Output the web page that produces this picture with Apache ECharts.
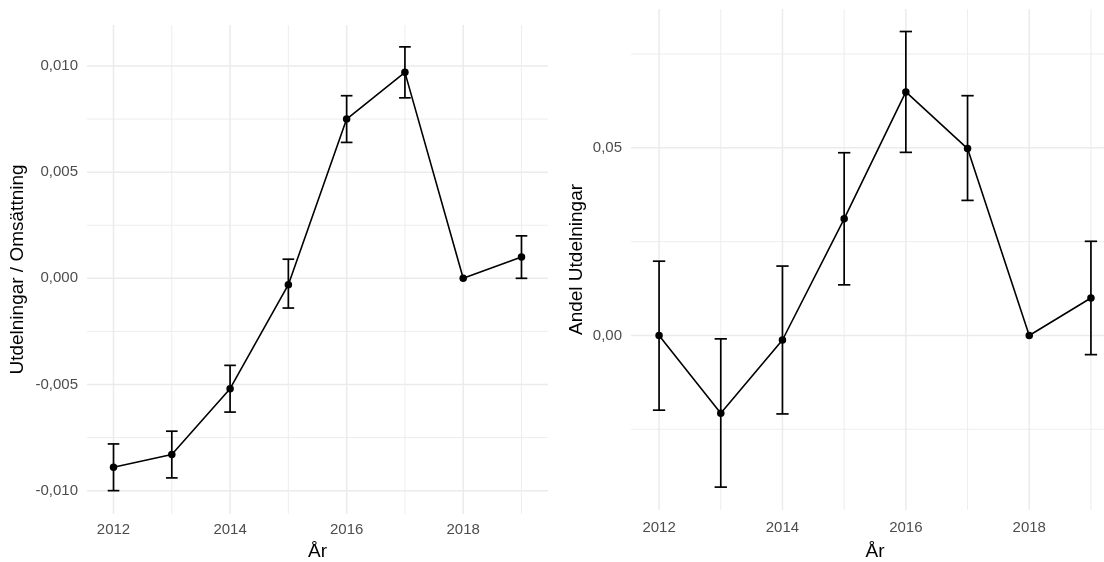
<!DOCTYPE html>
<html>
<head>
<meta charset="utf-8">
<title>Utdelningar</title>
<script src="https://cdn.jsdelivr.net/npm/echarts@6/dist/echarts.min.js"></script>
<style>
  html, body { margin: 0; padding: 0; background: #ffffff; }
  #chart { width: 1104px; height: 562px; }
</style>
</head>
<body>
<div id="chart"></div>
<script>
// Years on the x axis of both panels
const years = [2012, 2013, 2014, 2015, 2016, 2017, 2018, 2019];

// Left panel: distributions relative to turnover (estimate with interval)
const ratioMean = [-0.0089, -0.0083, -0.0052, -0.0003, 0.0075, 0.0097, 0.0000, 0.0010];
const ratioLow  = [-0.0100, -0.0094, -0.0063, -0.0014, 0.0064, 0.0085, null, 0.0000];
const ratioHigh = [-0.0078, -0.0072, -0.0041, 0.0009, 0.0086, 0.0109, null, 0.0020];

// Right panel: share of firms with distributions (estimate with interval)
const shareMean = [0.0000, -0.0207, -0.0012, 0.0311, 0.0649, 0.0498, 0.0000, 0.0100];
const shareLow  = [-0.0199, -0.0404, -0.0209, 0.0135, 0.0488, 0.0360, null, -0.0051];
const shareHigh = [0.0198, -0.0009, 0.0185, 0.0487, 0.0810, 0.0639, null, 0.0251];

// Axis breaks
const xLabelTicks = [2012, 2014, 2016, 2018];
const xMinorTicks = [2013, 2015, 2017, 2019];
const ratioTicks = [-0.010, -0.005, 0.000, 0.005, 0.010];
const ratioMinor = [-0.0075, -0.0025, 0.0025, 0.0075];
const shareTicks = [0.00, 0.05];
const shareMinor = [-0.025, 0.025, 0.075];

// Axis limits
const xLimits = [2011.545, 2019.455];
const ratioLimits = [-0.01110, 0.01193];
const shareLimits = [-0.0465, 0.0870];

const FONT = '"Liberation Sans", Arial, sans-serif';
const GRID_COLOR = '#EBEBEB';
const TICK_SIZE = 15;
const TITLE_SIZE = 19;

const comma = (digits) => (v) => Number(v).toFixed(digits).replace('.', ',');

function xAxisFor(gridIndex, labelMargin, titleGap) {
  return {
    type: 'value', gridIndex: gridIndex,
    min: xLimits[0], max: xLimits[1],
    name: 'År', nameLocation: 'middle', nameGap: titleGap,
    nameTextStyle: { fontFamily: FONT, fontSize: TITLE_SIZE, color: '#000000' },
    axisLine: { show: false }, axisTick: { show: false }, splitLine: { show: false },
    axisLabel: {
      customValues: xLabelTicks, margin: labelMargin,
      fontFamily: FONT, fontSize: TICK_SIZE, color: '#4D4D4D',
      formatter: (v) => String(Math.round(v))
    }
  };
}

function yAxisFor(gridIndex, limits, ticks, digits, title, gap) {
  return {
    type: 'value', gridIndex: gridIndex,
    min: limits[0], max: limits[1],
    name: title, nameLocation: 'middle', nameGap: gap, nameRotate: 90,
    nameTextStyle: { fontFamily: FONT, fontSize: TITLE_SIZE, color: '#000000' },
    axisLine: { show: false }, axisTick: { show: false }, splitLine: { show: false },
    axisLabel: {
      customValues: ticks, margin: 9,
      fontFamily: FONT, fontSize: TICK_SIZE, color: '#4D4D4D',
      formatter: comma(digits)
    }
  };
}

// Panel grid lines, drawn across the whole plotting area
function gridLines(idx, values, vertical, major) {
  return {
    type: 'custom', xAxisIndex: idx, yAxisIndex: idx,
    silent: true, animation: false, z: 0,
    data: values.map(v => vertical ? [v, 0] : [2015, v]),
    renderItem: (params, api) => {
      const cs = params.coordSys;
      const p = api.coord([api.value(0), api.value(1)]);
      const shape = vertical
        ? { x1: p[0], y1: cs.y, x2: p[0], y2: cs.y + cs.height }
        : { x1: cs.x, y1: p[1], x2: cs.x + cs.width, y2: p[1] };
      return {
        type: 'line', shape: shape,
        style: { stroke: GRID_COLOR, lineWidth: major ? 1.5 : 0.9 }
      };
    }
  };
}

// Error bars with caps of +-0.1 year
function errorBars(idx, low, high) {
  const data = [];
  years.forEach((y, i) => {
    if (low[i] != null && high[i] != null) data.push([y, low[i], high[i]]);
  });
  return {
    type: 'custom', xAxisIndex: idx, yAxisIndex: idx,
    silent: true, animation: false, z: 3,
    encode: { x: 0, y: [1, 2] },
    data: data,
    renderItem: (params, api) => {
      const x = api.value(0);
      const lo = api.coord([x, api.value(1)]);
      const hi = api.coord([x, api.value(2)]);
      const left = api.coord([x - 0.1, api.value(1)])[0];
      const right = api.coord([x + 0.1, api.value(1)])[0];
      const style = { stroke: '#000000', lineWidth: 1.7 };
      return {
        type: 'group',
        children: [
          { type: 'line', shape: { x1: lo[0], y1: lo[1], x2: hi[0], y2: hi[1] }, style: style },
          { type: 'line', shape: { x1: left, y1: hi[1], x2: right, y2: hi[1] }, style: style },
          { type: 'line', shape: { x1: left, y1: lo[1], x2: right, y2: lo[1] }, style: style }
        ]
      };
    }
  };
}

function meanLine(idx, values) {
  return {
    type: 'line', xAxisIndex: idx, yAxisIndex: idx,
    data: years.map((y, i) => [y, values[i]]),
    symbol: 'circle', symbolSize: 7.5, showSymbol: true,
    lineStyle: { color: '#000000', width: 1.6 },
    itemStyle: { color: '#000000' },
    silent: true, animation: false, z: 4
  };
}

const chart = echarts.init(document.getElementById('chart'), null, { renderer: 'canvas' });

chart.setOption({
  backgroundColor: '#ffffff',
  animation: false,
  grid: [
    { left: 87, top: 25, width: 461, height: 489, containLabel: false, outerBoundsMode: 'none' },
    { left: 631, top: 9, width: 488, height: 501, containLabel: false, outerBoundsMode: 'none' }
  ],
  xAxis: [xAxisFor(0, 8.5, 28), xAxisFor(1, 10.5, 32)],
  yAxis: [
    yAxisFor(0, ratioLimits, ratioTicks, 3, 'Utdelningar / Omsättning', 59.5),
    yAxisFor(1, shareLimits, shareTicks, 2, 'Andel Utdelningar', 44.5)
  ],
  series: [
    gridLines(0, ratioMinor, false, false),
    gridLines(0, ratioTicks, false, true),
    gridLines(0, xMinorTicks, true, false),
    gridLines(0, xLabelTicks, true, true),
    gridLines(1, shareMinor, false, false),
    gridLines(1, shareTicks, false, true),
    gridLines(1, xMinorTicks, true, false),
    gridLines(1, xLabelTicks, true, true),
    errorBars(0, ratioLow, ratioHigh),
    meanLine(0, ratioMean),
    errorBars(1, shareLow, shareHigh),
    meanLine(1, shareMean)
  ]
});
</script>
</body>
</html>
